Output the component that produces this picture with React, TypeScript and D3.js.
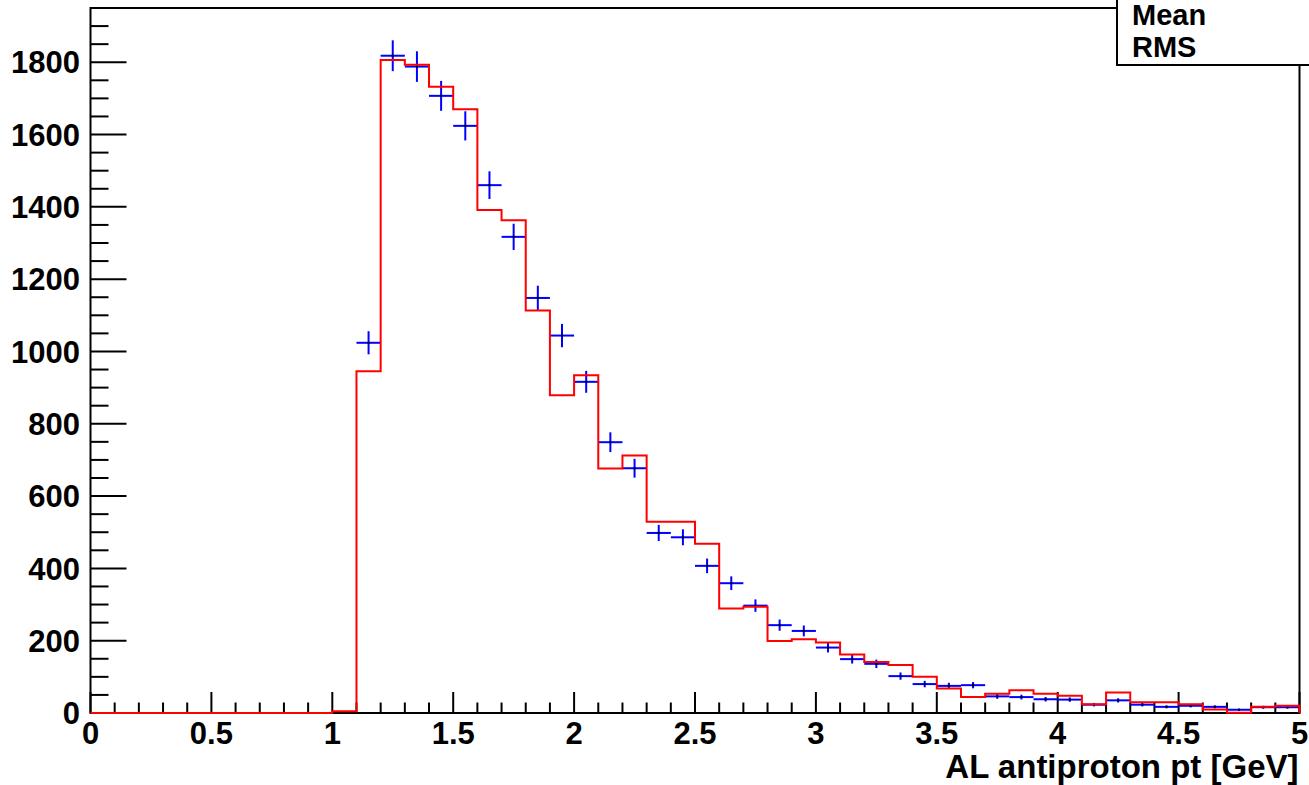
import React from "react";
import * as d3 from "d3";

// Bin lower edges 0.0 .. 4.9, width 0.1
const binEdges: number[] = d3.range(0, 50).map((i) => +(i * 0.1).toFixed(1));

// Red histogram (MC) contents per bin
const mcValues: number[] = [
  0, 0, 0, 0, 0, 0, 0, 0, 0, 0,
  5, 945, 1806, 1793, 1732, 1670, 1391, 1363, 1113, 879,
  934, 676, 712, 529, 529, 468, 289, 294, 199, 204,
  195, 162, 141, 133, 100, 68, 44, 53, 63, 53,
  48, 24, 57, 30, 30, 24, 10, 1, 17, 20,
];

// Blue data points per bin
const dataValues: number[] = [
  0, 0, 0, 0, 0, 0, 0, 0, 0, 0,
  0, 1024, 1818, 1788, 1707, 1624, 1460, 1317, 1148, 1044,
  916, 749, 677, 498, 486, 407, 359, 297, 243, 227,
  181, 149, 136, 102, 80, 75, 77, 46, 44, 38,
  37, 23, 35, 23, 17, 20, 17, 9, 16, 16,
];

const xTickLabels: number[] = [0, 0.5, 1, 1.5, 2, 2.5, 3, 3.5, 4, 4.5, 5];
const yTickLabels: number[] = [0, 200, 400, 600, 800, 1000, 1200, 1400, 1600, 1800];
const statsLabels: string[] = ["Mean", "RMS"];
const xTitle = "AL antiproton pt [GeV]";

const W = 1309;
const H = 785;
const left = 90.5;
const right = 1299.5;
const top = 8;
const bottom = 713;
const binW = 0.1;

export default function App() {
  const x = d3.scaleLinear().domain([0, 5]).range([left, right]);
  const y = d3.scaleLinear().domain([0, 1950]).range([bottom, top]);

  // step path for MC histogram
  let path = `M${x(0)},${y(0)}`;
  mcValues.forEach((v, i) => {
    const x0 = x(binEdges[i]);
    const x1 = x(binEdges[i] + binW);
    path += `L${x0},${y(v)}L${x1},${y(v)}`;
  });
  path += `L${x(5)},${y(0)}`;

  const xMinor = d3.range(0, 51).map((i) => i * 0.1);
  const yMinor = d3.range(0, 40).map((i) => i * 50);

  const font = "'Liberation Sans', Arial, Helvetica, sans-serif";

  return (
    <svg
      width={W}
      height={H}
      style={{ position: "absolute", left: 0, top: 0, background: "#fff" }}
      fontFamily={font}
      fontWeight="bold"
    >
      <rect x={0} y={0} width={W} height={H} fill="#fff" />
      {/* frame */}
      <rect x={left} y={top} width={right - left} height={bottom - top} fill="none" stroke="#000" strokeWidth={2} />

      {/* y ticks */}
      {yMinor.filter((v) => y(v) >= top).map((v, i) => {
        const major = v % 200 === 0;
        return (
          <line key={"yt" + i} x1={left} x2={left + (major ? 36 : 18)} y1={y(v)} y2={y(v)} stroke="#000" strokeWidth={2} />
        );
      })}
      {/* x ticks */}
      {xMinor.map((v, i) => {
        const major = i % 5 === 0;
        return (
          <line key={"xt" + i} x1={x(v)} x2={x(v)} y1={bottom} y2={bottom - (major ? 21 : 10.5)} stroke="#000" strokeWidth={2} />
        );
      })}

      {/* y labels */}
      {yTickLabels.map((v) => (
        <text key={"yl" + v} x={80} y={y(v)} dy="0.36em" textAnchor="end" fontSize={31} fill="#000">
          {v}
        </text>
      ))}
      {/* x labels */}
      {xTickLabels.map((v) => (
        <text key={"xl" + v} x={x(v)} y={744} textAnchor="middle" fontSize={31} fill="#000">
          {v}
        </text>
      ))}
      <text x={right - 1} y={778} textAnchor="end" fontSize={33} fill="#000">
        {xTitle}
      </text>

      {/* data points */}
      {dataValues.map((v, i) => {
        if (v <= 0) return null;
        const cx = x(binEdges[i] + binW / 2);
        const e = Math.sqrt(v);
        return (
          <g key={"d" + i} stroke="#0000ff" strokeWidth={2}>
            <line x1={x(binEdges[i])} x2={x(binEdges[i] + binW)} y1={y(v)} y2={y(v)} />
            <line x1={cx} x2={cx} y1={y(v + e)} y2={y(v - e)} />
            <rect x={cx - 1} y={y(v) - 1} width={2} height={2} fill="#000" stroke="none" />
          </g>
        );
      })}

      {/* MC histogram */}
      <path d={path} fill="none" stroke="#ff0000" strokeWidth={2} />

      {/* stats box */}
      <rect x={1117} y={-2} width={W - 1117 + 4} height={67} fill="#fff" stroke="#000" strokeWidth={2} />
      {statsLabels.map((s, i) => (
        <text key={s} x={1132} y={25 + i * 32} fontSize={29} fill="#000">
          {s}
        </text>
      ))}
    </svg>
  );
}
